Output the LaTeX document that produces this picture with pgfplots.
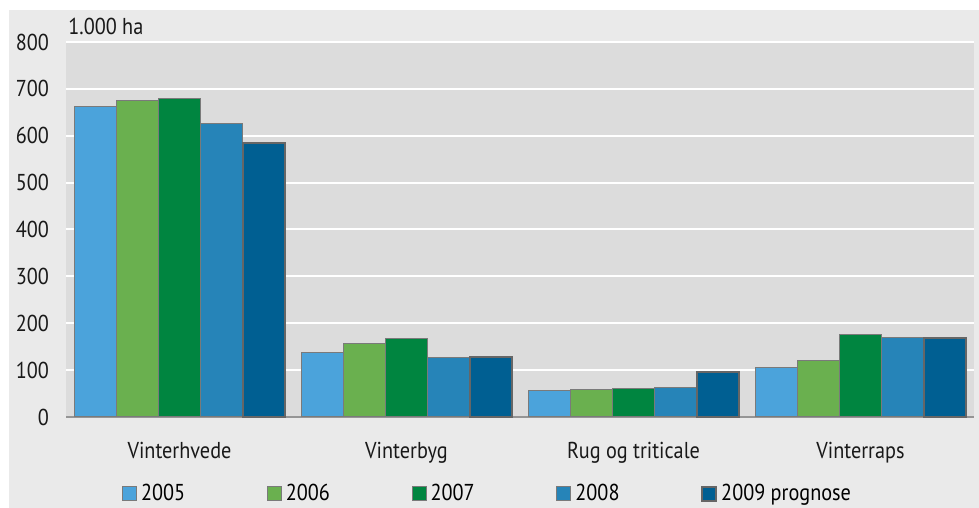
\documentclass[border=0pt]{standalone}
\usepackage{pgfplots}
\pgfplotsset{compat=1.18}
\usepackage{fontspec}
\setmainfont{PT Sans}[FakeStretch=0.88]
\definecolor{cA}{HTML}{4BA3DB}
\definecolor{cB}{HTML}{6AB04F}
\definecolor{cC}{HTML}{008540}
\definecolor{cD}{HTML}{2684B8}
\definecolor{cE}{HTML}{005F92}
\definecolor{panel}{HTML}{EAEAEA}
\definecolor{plotbg}{HTML}{DCDCDC}
\definecolor{edge}{HTML}{7A7A7A}
\definecolor{edgeE}{HTML}{666666}
\newcommand{\legbox}[1]{\makebox[60.9pt][l]{#1}}
\begin{document}
\begin{tikzpicture}
\fill[white] (0pt,0pt) rectangle (489.5pt,254pt);
\fill[panel] (4.5pt,0pt) rectangle (489.5pt,249pt);
\node[anchor=base west,inner sep=0pt,font=\fontsize{11.5}{13}\selectfont,text=black!90] at (34pt,236.5pt) {1.000 ha};
\begin{axis}[
  at={(33pt,45.5pt)}, anchor=south west,
  scale only axis, width=454pt, height=187.5pt,
  axis background/.style={fill=plotbg},
  xmin=-0.5, xmax=3.5, ymin=0, ymax=800,
  ytick={0,100,...,800},
  xtick={0,1,2,3},
  xticklabels={Vinterhvede,Vinterbyg,Rug og triticale,Vinterraps},
  major tick length=0pt,
  ymajorgrids, grid style={white,line width=1pt},
  axis x line*=bottom, axis y line*=left,
  x axis line style={draw=edge!80,line width=0.8pt,-},
  y axis line style={draw=none},
  /pgf/number format/assume math mode=true,
  ticklabel style={font=\fontsize{11.5}{13}\selectfont,text=black!90},
  yticklabel style={xshift=-5pt},
  xticklabel style={yshift=-9pt},
  ybar=0pt, bar width=21pt,
  legend style={draw=none,fill=none,at={(0.0617,-0.205)},anchor=west,
    inner sep=0pt, outer sep=0pt,
    legend columns=5, font=\fontsize{11.5}{13}\selectfont,
    /tikz/every even column/.append style={column sep=0pt},
    nodes={inner xsep=2pt}},
  legend cell align=left,
  legend image code/.code={\draw[#1] (0pt,-3.5pt) rectangle (7pt,3.5pt);},
  clip=false,
]
\addplot[fill=cA,draw=edge,line width=0.5pt] coordinates {(0,663) (1,138) (2,56) (3,106)};
\addplot[fill=cB,draw=edge,line width=0.5pt] coordinates {(0,676) (1,157) (2,58) (3,120)};
\addplot[fill=cC,draw=edge,line width=0.5pt] coordinates {(0,680) (1,168) (2,60) (3,176)};
\addplot[fill=cD,draw=edge,line width=0.5pt] coordinates {(0,626) (1,126) (2,62) (3,169)};
\addplot[fill=cE,draw=edgeE,line width=1pt] coordinates {(0,584) (1,127) (2,96) (3,168)};
\legend{\legbox{2005},\legbox{2006},\legbox{2007},\legbox{2008},\legbox{2009 prognose}}
\end{axis}
\end{tikzpicture}
\end{document}
